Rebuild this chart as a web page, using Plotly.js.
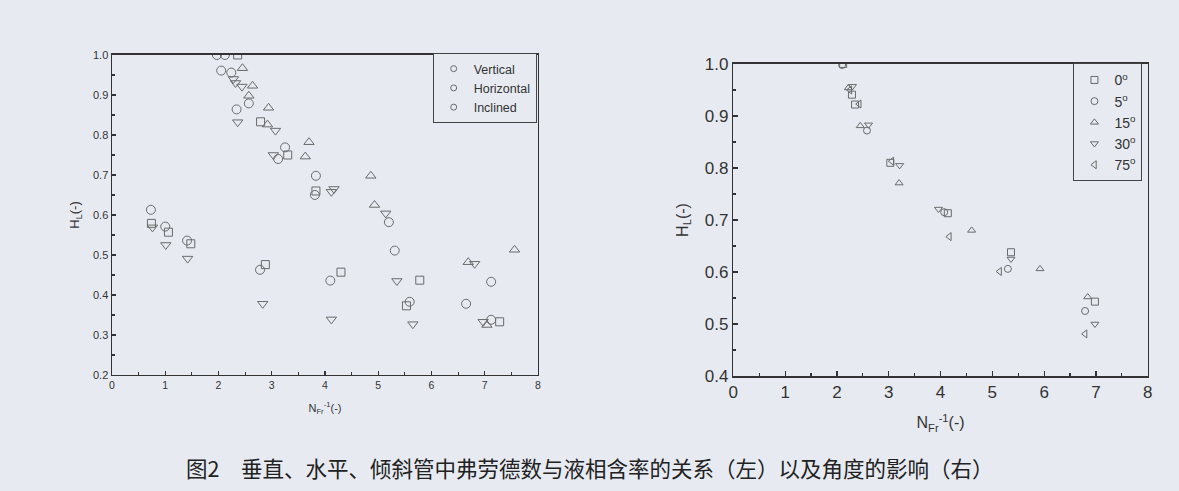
<!DOCTYPE html>
<html><head><meta charset="utf-8">
<script src="https://cdn.plot.ly/plotly-3.0.1.min.js"></script>
<style>html,body{margin:0;padding:0;background:#e7ebf1;}#chart{width:1179px;height:491px;}</style>
</head><body><div id="chart"></div>
<script>
// ---- Left chart data (N_Fr^-1 vs H_L) ----
const leftCircleX = [1.97,2.12,2.05,2.24,2.57,2.34,3.25,3.12,3.83,3.81,5.20,0.73,1.00,1.41,2.78,4.10,5.31,5.59,7.12,6.65,7.12];
const leftCircleY = [1.00,1.00,0.961,0.956,0.879,0.864,0.769,0.740,0.698,0.650,0.582,0.613,0.571,0.536,0.463,0.436,0.511,0.383,0.433,0.378,0.338];
const leftSquareX = [2.36,2.79,3.30,3.83,0.74,1.06,1.48,2.88,4.30,5.78,5.53,7.28];
const leftSquareY = [1.00,0.833,0.750,0.660,0.579,0.557,0.528,0.476,0.457,0.437,0.373,0.333];
const leftUpX = [2.45,2.64,2.57,2.94,2.92,3.70,3.63,4.86,4.93,7.56,6.69,7.04];
const leftUpY = [0.967,0.923,0.898,0.868,0.826,0.782,0.746,0.698,0.625,0.513,0.482,0.325];
const leftDownX = [2.28,2.32,2.44,2.36,3.07,3.03,4.12,4.17,5.14,0.76,1.01,1.42,2.83,4.12,5.35,5.65,6.81,6.97];
const leftDownY = [0.940,0.930,0.921,0.832,0.811,0.750,0.658,0.665,0.604,0.569,0.525,0.491,0.378,0.339,0.435,0.327,0.478,0.333];
const leftLegendNames = ["Vertical","Horizontal","Inclined"];

// ---- Right chart data (angle influence) ----
const rightNames = ["0<sup>o</sup>","5<sup>o</sup>","15<sup>o</sup>","30<sup>o</sup>","75<sup>o</sup>"];
const a0X = [2.12,2.29,2.35,3.03,4.14,5.36,6.98];
const a0Y = [1.00,0.941,0.922,0.810,0.713,0.638,0.543];
const a5X = [2.10,2.58,4.07,5.30,6.79];
const a5Y = [0.998,0.872,0.715,0.606,0.525];
const a15X = [2.22,2.45,3.20,4.60,5.92,6.84];
const a15Y = [0.954,0.881,0.771,0.680,0.606,0.552];
const a30X = [2.30,2.61,3.21,3.96,5.36,6.98];
const a30Y = [0.957,0.883,0.805,0.721,0.625,0.500];
const a75X = [2.25,2.43,3.06,4.17,5.14,6.79];
const a75Y = [0.950,0.923,0.813,0.668,0.601,0.481];

const xTicks = [0,1,2,3,4,5,6,7,8];
const caption = "图2　垂直、水平、倾斜管中弗劳德数与液相含率的关系（左）以及角度的影响（右）";

const mc = "#6a6a6a";
const bg = "#e7ebf1";
function mk(sym, size){ return {symbol: sym, size: size, color: mc, line:{color: mc, width: 1}}; }

const traces = [
  {x: leftCircleX, y: leftCircleY, mode:"markers", type:"scatter", xaxis:"x", yaxis:"y", marker: mk("circle-open",9), showlegend:false},
  {x: leftSquareX, y: leftSquareY, mode:"markers", type:"scatter", xaxis:"x", yaxis:"y", marker: mk("square-open",8), showlegend:false},
  {x: leftUpX, y: leftUpY, mode:"markers", type:"scatter", xaxis:"x", yaxis:"y", marker: mk("triangle-up-open",9), showlegend:false},
  {x: leftDownX, y: leftDownY, mode:"markers", type:"scatter", xaxis:"x", yaxis:"y", marker: mk("triangle-down-open",9), showlegend:false},
];
leftLegendNames.forEach(n => traces.push({x:[null], y:[null], mode:"markers", type:"scatter", xaxis:"x", yaxis:"y", name:n, legend:"legend", marker: mk("circle-open",6)}));
const rs = [[a0X,a0Y,"square-open"],[a5X,a5Y,"circle-open"],[a15X,a15Y,"triangle-up-open"],[a30X,a30Y,"triangle-down-open"],[a75X,a75Y,"triangle-left-open"]];
rs.forEach((r,i) => traces.push({x:r[0], y:r[1], mode:"markers", type:"scatter", xaxis:"x2", yaxis:"y2", name: rightNames[i], legend:"legend2", marker: mk(r[2],7)}));

const axBase = {showgrid:false, zeroline:false, showline:true, linecolor:"#333", linewidth:1.5, mirror:true, ticks:"inside", tickcolor:"#333", tickwidth:1.2};
const layout = {
  width:1179, height:491, paper_bgcolor:bg, plot_bgcolor:bg,
  margin:{l:0,r:0,t:0,b:0},
  font:{family:"Liberation Sans, Arial, sans-serif", color:"#333"},
  xaxis: Object.assign({}, axBase, {domain:[0.095,0.4563], anchor:"y", range:[0,8], tickvals:xTicks, ticklen:4,
    minor:{ticks:"inside", dtick:0.5, ticklen:2.5, tickcolor:"#333"}, tickfont:{size:10.5},
    title:{text:"N<sub>Fr</sub><sup>-1</sup>(-)", font:{size:11}, standoff:14}}),
  yaxis: Object.assign({}, axBase, {domain:[0.2363,0.888], anchor:"x", range:[0.2,1.0], dtick:0.1, tickformat:".1f", ticklen:4,
    minor:{ticks:"inside", dtick:0.05, ticklen:2.5, tickcolor:"#333"}, tickfont:{size:11},
    title:{text:"H<sub>L</sub>(-)", font:{size:13}, standoff:10}}),
  xaxis2: Object.assign({}, axBase, {domain:[0.622,0.9735], anchor:"y2", range:[0,8], tickvals:xTicks, ticklen:5,
    minor:{ticks:"inside", dtick:0.5, ticklen:3, tickcolor:"#333"}, tickfont:{size:17},
    title:{text:"N<sub>Fr</sub><sup>-1</sup>(-)", font:{size:16}, standoff:16}}),
  yaxis2: Object.assign({}, axBase, {domain:[0.2342,0.8697], anchor:"x2", range:[0.4,1.0], dtick:0.1, tickformat:".1f", ticklen:5,
    minor:{ticks:"inside", dtick:0.05, ticklen:3, tickcolor:"#333"}, tickfont:{size:17},
    title:{text:"H<sub>L</sub>(-)", font:{size:16}, standoff:12}}),
  legend:{x:0.4552, xanchor:"right", y:0.892, yanchor:"top", bgcolor:bg, bordercolor:"#444", borderwidth:1,
    font:{size:12.5, color:"#333"}, itemwidth:30, tracegroupgap:0},
  legend2:{x:0.969, xanchor:"right", y:0.871, yanchor:"top", bgcolor:bg, bordercolor:"#444", borderwidth:1,
    font:{size:14, color:"#333"}, itemwidth:30, tracegroupgap:0},
  annotations:[{text:caption, xref:"paper", yref:"paper", x:0.5, y:(491-467)/491, xanchor:"center", yanchor:"middle",
    showarrow:false, font:{family:"Noto Sans CJK SC", size:21.5, color:"#222"}}]
};
Plotly.newPlot("chart", traces, layout, {displayModeBar:false, staticPlot:true});
</script></body></html>
